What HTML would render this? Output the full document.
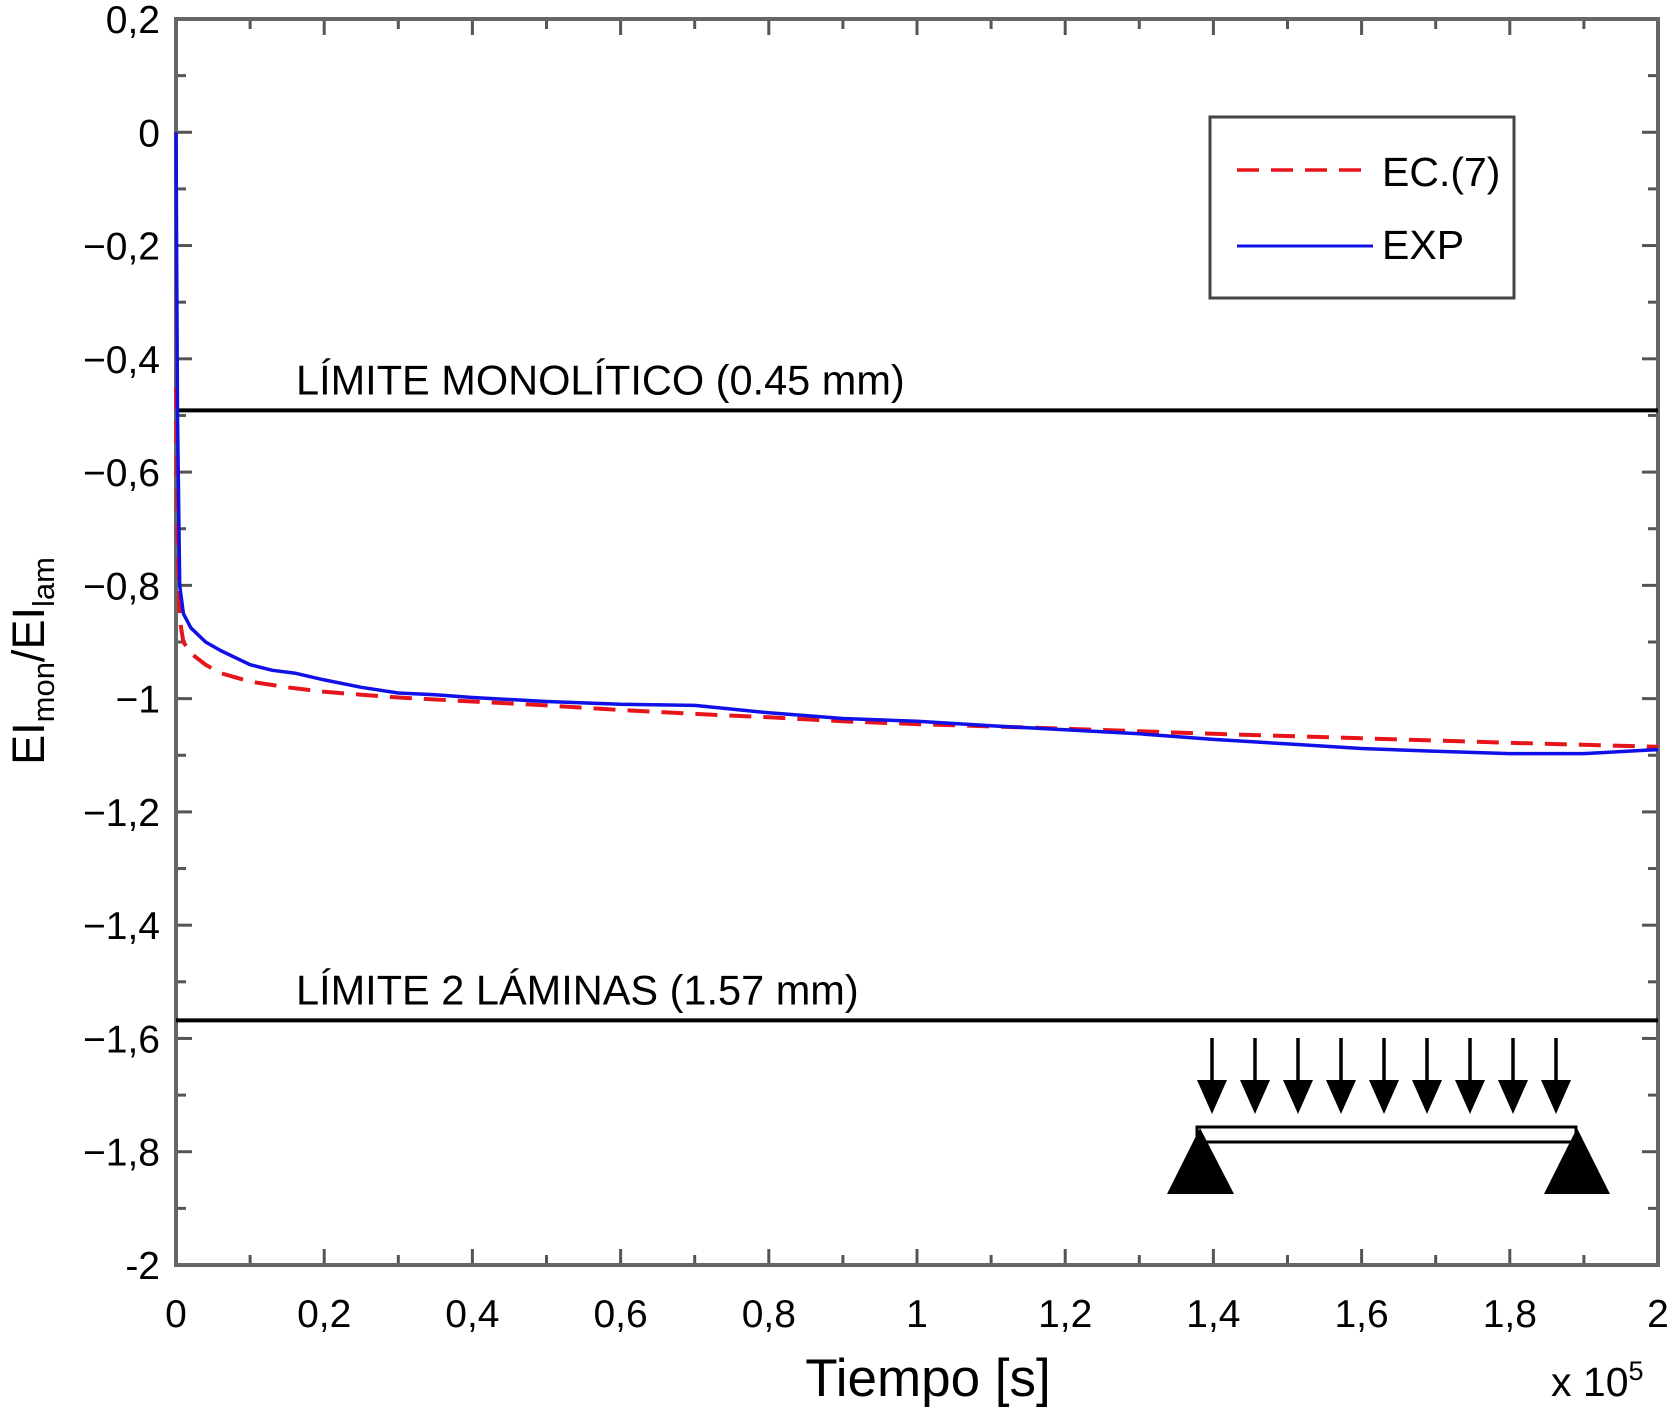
<!DOCTYPE html>
<html><head><meta charset="utf-8"><style>
body{margin:0;background:#fff;width:1670px;height:1407px;overflow:hidden}
svg{font-family:"Liberation Sans",sans-serif}
</style></head><body>
<svg id="chart" width="1670" height="1407" viewBox="0 0 1670 1407" xmlns="http://www.w3.org/2000/svg">
<g id="axes"></g>
<g id="series"></g>
<g id="legend">
 <rect x="1210" y="117" width="304" height="181" fill="#fff" stroke="#444" stroke-width="3"/>
 <line x1="1237" y1="170" x2="1373" y2="170" stroke="#e8141c" stroke-width="3.5" stroke-dasharray="22,12"/>
 <text x="1382" y="186" font-size="41">EC.(7)</text>
 <line x1="1237" y1="246" x2="1373" y2="246" stroke="#1010e8" stroke-width="3"/>
 <text x="1382" y="259" font-size="41">EXP</text>
</g>
<g id="beam"></g>
<text x="928" y="1396" font-size="53" text-anchor="middle">Tiempo [s]</text>
<text x="1551" y="1396" font-size="41">x 10<tspan font-size="27" dy="-16">5</tspan></text>
<text transform="translate(44,661) rotate(-90)" font-size="45" text-anchor="middle">EI<tspan font-size="31" dy="10">mon</tspan><tspan dy="-10">/EI</tspan><tspan font-size="31" dy="10">lam</tspan></text>
</svg>
<script>
const xTicks=[0,0.2,0.4,0.6,0.8,1,1.2,1.4,1.6,1.8,2];
const xTickLabels=["0","0,2","0,4","0,6","0,8","1","1,2","1,4","1,6","1,8","2"];
const yTicks=[0.2,0,-0.2,-0.4,-0.6,-0.8,-1,-1.2,-1.4,-1.6,-1.8,-2];
const yTickLabels=["0,2","0","\u22120,2","\u22120,4","\u22120,6","\u22120,8","\u22121","\u22121,2","\u22121,4","\u22121,6","\u22121,8","-2"];
const limitValues=[-0.491,-1.568];
const limitLabels=["LÍMITE MONOLÍTICO (0.45 mm)","LÍMITE 2 LÁMINAS (1.57 mm)"];
const expX=[0,0.002,0.005,0.01,0.02,0.04,0.06,0.1,0.13,0.16,0.2,0.25,0.3,0.35,0.4,0.5,0.6,0.7,0.8,0.9,1.0,1.1,1.2,1.3,1.4,1.5,1.6,1.7,1.8,1.9,2.0];
const expY=[0,-0.5,-0.8,-0.85,-0.875,-0.9,-0.915,-0.94,-0.95,-0.955,-0.967,-0.98,-0.99,-0.993,-0.998,-1.005,-1.01,-1.012,-1.025,-1.035,-1.04,-1.048,-1.055,-1.062,-1.072,-1.08,-1.088,-1.093,-1.097,-1.097,-1.09];
const ecX=[0,0.002,0.005,0.01,0.02,0.04,0.06,0.1,0.15,0.2,0.25,0.3,0.4,0.5,0.6,0.7,0.8,0.9,1.0,1.2,1.4,1.6,1.8,2.0];
const ecY=[-0.45,-0.7,-0.86,-0.9,-0.92,-0.94,-0.955,-0.97,-0.98,-0.988,-0.993,-0.998,-1.005,-1.012,-1.02,-1.027,-1.033,-1.04,-1.045,-1.053,-1.062,-1.07,-1.078,-1.085];
const L=176,R=1658,T=19,B=1265,y0=0.2,y1=-2;
const sx=v=>L+v/2*(R-L), sy=v=>T+(y0-v)/(y0-y1)*(B-T);
const NS="http://www.w3.org/2000/svg";
function mk(tag,attrs,parent,txt){const e=document.createElementNS(NS,tag);for(const k in attrs)e.setAttribute(k,attrs[k]);if(txt!==undefined)e.textContent=txt;parent.appendChild(e);return e;}
const ax=document.getElementById('axes');
for(let i=0;i<=20;i++){const x=sx(i*0.1),len=i%2?10:16;
 let t=mk('line',{x1:x,y1:B,x2:x,y2:B-len,stroke:'#555','stroke-width':3},ax);
 
 
 t=mk('line',{x1:x,y1:T,x2:x,y2:T+len,stroke:'#555','stroke-width':3},ax);
 
 }
for(let i=0;i<=22;i++){const v=0.2-i*0.1,y=sy(v),len=i%2?10:16;
 let t=mk('line',{x1:L,y1:y,x2:L+len,y2:y,stroke:'#555','stroke-width':3},ax);
 
 
 t=mk('line',{x1:R,y1:y,x2:R-len,y2:y,stroke:'#555','stroke-width':3},ax);
 
 }
let fr=mk('rect',{x:L,y:T,width:R-L,height:B-T,fill:'none',stroke:'#666','stroke-width':4},ax);


xTicks.forEach((v,i)=>{const t=mk('text',{x:sx(v),y:1327,'font-size':39,'text-anchor':'middle'},ax,xTickLabels[i]);
 
 });
yTicks.forEach((v,i)=>{const t=mk('text',{x:160,y:sy(v)+14,'font-size':39,'text-anchor':'end'},ax,yTickLabels[i]);
 
 });
limitValues.forEach((v,i)=>{const l=mk('line',{x1:L,y1:sy(v),x2:R,y2:sy(v),stroke:'#000','stroke-width':4},ax);
 
 
 const t=mk('text',{x:296,y:sy(v)-16,'font-size':41.5},ax,limitLabels[i]);
 
 });
const se=document.getElementById('series');
const pts=(X,Y)=>X.map((x,i)=>sx(x).toFixed(1)+','+sy(Y[i]).toFixed(1)).join(' ');
let p=mk('polyline',{points:pts(ecX,ecY),fill:'none',stroke:'#e8141c','stroke-width':4,'stroke-dasharray':'22,12'},se);


p=mk('polyline',{points:pts(expX,expY),fill:'none',stroke:'#1010e8','stroke-width':3.5,'stroke-linejoin':'round'},se);


const bm=document.getElementById('beam');
for(let i=0;i<9;i++){const x=1212+i*43;
 const g=mk('g',{},bm);
 
 
 mk('line',{x1:x,y1:1038,x2:x,y2:1090,stroke:'#000','stroke-width':3.5},g);
 mk('polygon',{points:`${x-15},${1080} ${x},${1114} ${x+15},${1080}`,fill:'#000'},g);}
let r=mk('rect',{x:1197,y:1127,width:379,height:15,fill:'#fff',stroke:'#000','stroke-width':3},bm);


r=mk('polygon',{points:'1200,1128 1167,1194 1234,1194',fill:'#000'},bm);


r=mk('polygon',{points:'1577,1128 1544,1194 1610,1194',fill:'#000'},bm);


</script>
</body></html>
